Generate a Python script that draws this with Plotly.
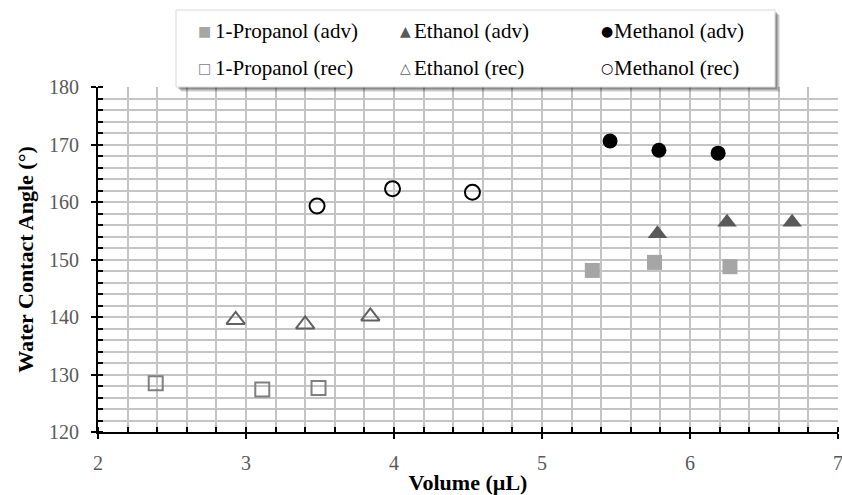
import plotly.graph_objects as go

# Contact angle measurements vs. droplet volume
propanol_adv_vol = [5.34, 5.76, 6.27]
propanol_adv_ang = [148.1, 149.5, 148.75]
ethanol_adv_vol = [5.78, 6.25, 6.69]
ethanol_adv_ang = [154.5, 156.5, 156.5]
methanol_adv_vol = [5.46, 5.79, 6.19]
methanol_adv_ang = [170.6, 169.0, 168.5]

propanol_rec_vol = [2.39, 3.11, 3.49]
propanol_rec_ang = [128.5, 127.4, 127.65]
ethanol_rec_vol = [2.93, 3.40, 3.84]
ethanol_rec_ang = [139.5, 138.7, 140.1]
methanol_rec_vol = [3.48, 3.99, 4.53]
methanol_rec_ang = [159.3, 162.3, 161.7]

x_ticks = [2, 3, 4, 5, 6, 7]
y_ticks = [120, 130, 140, 150, 160, 170, 180]

FONT = "Liberation Serif"
W, H = 842, 495
ML, MR, MT, MB = 98, 4, 87, 63
PW, PH = W - ML - MR, H - MT - MB


def px_x(px):
    return (px - ML) / PW


def px_y(py):
    return (H - MB - py) / PH


fig = go.Figure()

series = [
    ("1-Propanol (adv)", propanol_adv_vol, propanol_adv_ang,
     dict(symbol="square", size=15, color="#a6a6a6", line=dict(width=0))),
    ("Ethanol (adv)", ethanol_adv_vol, ethanol_adv_ang,
     dict(symbol="triangle-up", size=17, color="#595959", line=dict(width=0))),
    ("Methanol (adv)", methanol_adv_vol, methanol_adv_ang,
     dict(symbol="circle", size=15, color="#000000", line=dict(width=0))),
    ("1-Propanol (rec)", propanol_rec_vol, propanol_rec_ang,
     dict(symbol="square-open", size=14, color="#7f7f7f", line=dict(width=2))),
    ("Ethanol (rec)", ethanol_rec_vol, ethanol_rec_ang,
     dict(symbol="triangle-up-open", size=16, color="#606060", line=dict(width=2))),
    ("Methanol (rec)", methanol_rec_vol, methanol_rec_ang,
     dict(symbol="circle-open", size=15, color="#000000", line=dict(width=2))),
]

for name, xs, ys, mk in series:
    fig.add_trace(go.Scatter(x=xs, y=ys, mode="markers", name=name,
                             marker=mk, showlegend=False, cliponaxis=False))

axis_common = dict(
    showline=True, linecolor="#000000", linewidth=2,
    showgrid=True, gridcolor="#c4c4c4", gridwidth=1.5,
    zeroline=False, ticks="outside", ticklen=5, tickwidth=1.5,
    tickcolor="#000000", ticklabeloverflow="allow", automargin=False,
    tickfont=dict(family=FONT, size=20, color="#595959"),
)

fig.update_xaxes(
    range=[2, 7], tickvals=x_ticks, ticktext=[str(v) for v in x_ticks],
    minor=dict(dtick=0.2, showgrid=True, gridcolor="#c4c4c4", gridwidth=1.5,
               ticks="inside", ticklen=5, tickcolor="#000000", tickwidth=1.5),
    title=dict(text="<b>Volume (µL)</b>", font=dict(family=FONT, size=22, color="#000000"),
               standoff=9),
    ticklabelstandoff=7,
    **axis_common,
)
fig.update_yaxes(
    range=[120, 180], tickvals=y_ticks, ticktext=[str(v) for v in y_ticks],
    minor=dict(dtick=2, showgrid=True, gridcolor="#c4c4c4", gridwidth=1.5,
               ticks="inside", ticklen=5, tickcolor="#000000", tickwidth=1.5),
    title=dict(text="<b>Water Contact Angle (°)</b>", font=dict(family=FONT, size=22, color="#000000"),
               standoff=9),
    ticklabelstandoff=8,
    **axis_common,
)

# Legend box with soft shadow
box = (176, 10, 775, 87)
shapes = []
for off, op in [(5, 0.10), (4, 0.12), (3, 0.15), (2, 0.18)]:
    shapes.append(dict(type="rect", xref="paper", yref="paper", layer="above",
                       x0=px_x(box[0] + off), x1=px_x(box[2] + off),
                       y0=px_y(box[3] + off), y1=px_y(box[1] + off),
                       line=dict(width=0), fillcolor=f"rgba(0,0,0,{op})"))
shapes.append(dict(type="rect", xref="paper", yref="paper", layer="above",
                   x0=px_x(box[0]), x1=px_x(box[2]), y0=px_y(box[3]), y1=px_y(box[1]),
                   line=dict(color="#d9d9d9", width=1), fillcolor="#ffffff"))

legend_glyphs = ["■", "▲", "●", "□", "△", "○"]
glyph_px = [204, 405, 607]
text_px = [216, 415, 615]
row_py = [31, 68]
annotations = []
for i, (name, _, _, mk) in enumerate(series):
    col, row = i % 3, i // 3
    cy = row_py[row]
    annotations.append(dict(
        x=px_x(glyph_px[col]), y=px_y(cy), xref="paper", yref="paper",
        text=legend_glyphs[i], showarrow=False, xanchor="center", yanchor="middle",
        font=dict(family="DejaVu Sans", size=14, color=mk["color"])))
    annotations.append(dict(
        x=px_x(text_px[col]), y=px_y(cy), xref="paper", yref="paper",
        text=name, showarrow=False, xanchor="left", yanchor="middle",
        xshift=-3,
        font=dict(family=FONT, size=21, color="#000000")))

fig.update_layout(
    width=W, height=H,
    margin=dict(l=ML, r=MR, t=MT, b=MB, autoexpand=False),
    paper_bgcolor="#ffffff", plot_bgcolor="#ffffff",
    showlegend=False,
    shapes=shapes, annotations=annotations,
    font=dict(family=FONT),
)

fig.write_html("out.html")
